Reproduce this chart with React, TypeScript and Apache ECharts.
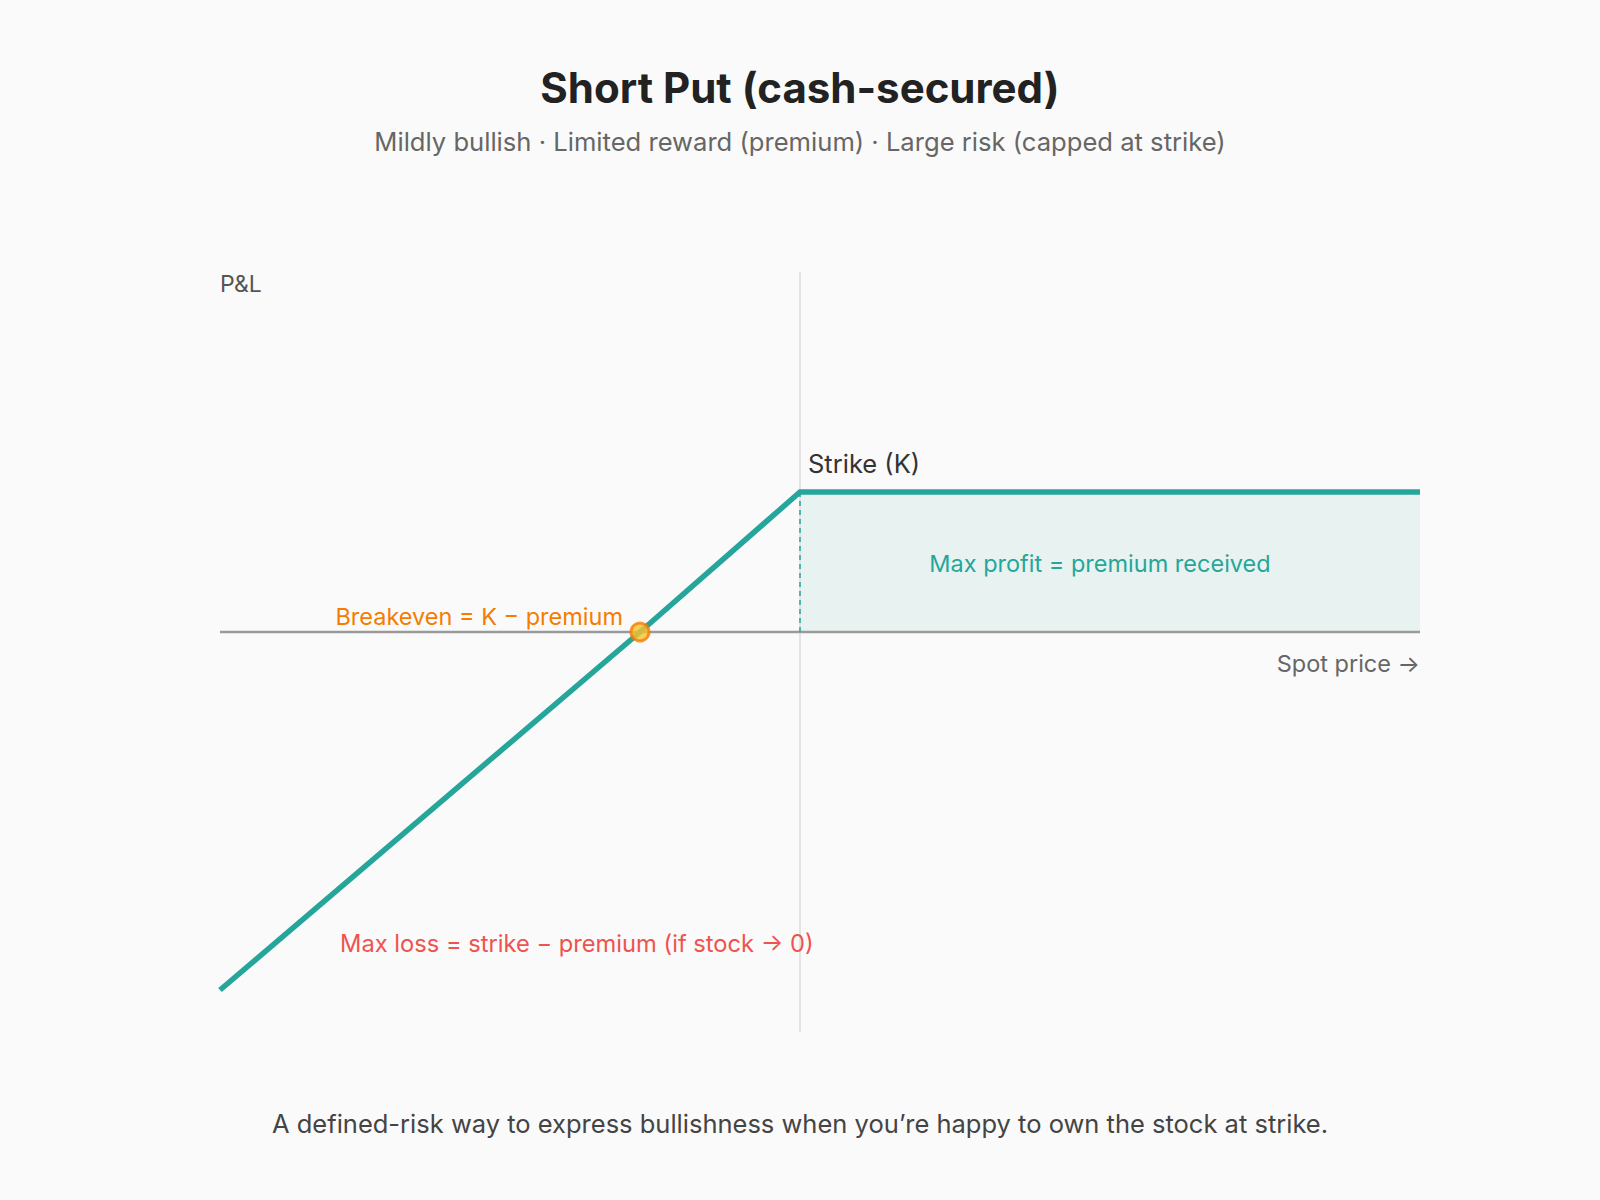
import React, { useEffect, useRef } from "react";
import * as echarts from "echarts";

// Domain (arbitrary spot / P&L units)
const xRange = [0, 120];
const yRange = [-50, 45];
const strike = 58;
const premium = 17.5;
const breakeven = 42;
const payoffLine: [number, number][] = [
  [0, -44.75],
  [42, 0],
  [58, 17.5],
  [120, 17.5],
];
const profitZone: [number, number][] = [
  [58, 17.5],
  [120, 17.5],
];
const zeroLine: [number, number][] = [
  [0, 0],
  [120, 0],
];
const strikeLine: [number, number][] = [
  [58, -50],
  [58, 45],
];
const strikeDrop: [number, number][] = [
  [58, 0],
  [58, 17.5],
];
const breakevenPoint: [number, number][] = [[42, 0]];

const titleText = "Short Put (cash-secured)";
const subtitleText =
  "Mildly bullish · Limited reward (premium) · Large risk (capped at strike)";
const footText =
  "A defined-risk way to express bullishness when you’re happy to own the stock at strike.";

const FONT = "Inter, 'Noto Sans', sans-serif";
const TEAL = "#26a69a";

export default function App() {
  const ref = useRef<HTMLDivElement>(null);
  useEffect(() => {
    document.body.style.margin = "0";
    const chart = echarts.init(ref.current!, null, { renderer: "svg" });
    chart.setOption({
      animation: false,
      backgroundColor: "#fafafa",
      grid: { left: 220, right: 180, top: 272, bottom: 168 },
      xAxis: {
        type: "value",
        min: xRange[0],
        max: xRange[1],
        show: false,
      },
      yAxis: {
        type: "value",
        min: yRange[0],
        max: yRange[1],
        show: false,
      },
      series: [
        {
          type: "line",
          data: profitZone,
          symbol: "none",
          lineStyle: { width: 0 },
          areaStyle: { color: "#e8f3f1", opacity: 1 },
          z: 1,
        },
        {
          type: "line",
          data: strikeLine,
          symbol: "none",
          lineStyle: { color: "#dcdcdc", width: 1.5 },
          z: 2,
        },
        {
          type: "line",
          data: zeroLine,
          symbol: "none",
          lineStyle: { color: "#9a9a9a", width: 2.5 },
          z: 3,
        },
        {
          type: "line",
          data: strikeDrop,
          symbol: "none",
          lineStyle: { color: TEAL, width: 1.5, type: [5, 4] },
          z: 3,
        },
        {
          type: "line",
          data: payoffLine,
          symbol: "none",
          lineStyle: { color: TEAL, width: 5.5, cap: "butt", join: "miter" },
          z: 4,
        },
        {
          type: "scatter",
          data: breakevenPoint,
          symbolSize: 18,
          itemStyle: { color: "#fbc02d", borderColor: "#f57c00", borderWidth: 3 },
          z: 5,
        },
      ],
    });

    const px = (p: [number, number]) =>
      chart.convertToPixel({ gridIndex: 0 }, p) as number[];
    const strikeTop = px([strike, premium]);
    const be = px([breakeven, 0]);
    const rightZero = px([xRange[1], 0]);
    const leftTop = px([xRange[0], yRange[1]]);
    const zoneMid = px([(strike + xRange[1]) / 2, premium / 2]);
    const lossPt = px([12, -37.5]);

    const txt = (
      x: number,
      y: number,
      text: string,
      font: string,
      fill: string,
      align: string
    ) => ({
      type: "text",
      x,
      y,
      z: 100,
      style: { text, font, fill, align, verticalAlign: "middle" },
    });

    chart.setOption({
      graphic: [
        txt(800, 87, titleText, `bold 42px ${FONT}`, "#222", "center"),
        txt(800, 141, subtitleText, `25.6px ${FONT}`, "#666", "center"),
        txt(leftTop[0], leftTop[1] + 12, "P&L", `23px ${FONT}`, "#555", "left"),
        txt(strikeTop[0] + 8, strikeTop[1] - 29, "Strike (K)", `25.5px ${FONT}`, "#333", "left"),
        txt(zoneMid[0] - 10, zoneMid[1] + 1, "Max profit = premium received", `23.5px ${FONT}`, TEAL, "center"),
        txt(be[0] - 17, be[1] - 16, "Breakeven = K − premium", `23.5px ${FONT}`, "#f57c00", "right"),
        txt(rightZero[0], rightZero[1] + 31, "Spot price →", `23.5px ${FONT}`, "#666", "right"),
        txt(lossPt[0], lossPt[1] + 11, "Max loss = strike − premium (if stock → 0)", `23.7px ${FONT}`, "#ef5350", "left"),
        txt(800, 1123, footText, `25.5px ${FONT}`, "#444", "center"),
      ],
    });
    return () => chart.dispose();
  }, []);
  return (
    <div
      ref={ref}
      style={{ width: 1600, height: 1200, position: "absolute", left: 0, top: 0 }}
    />
  );
}
